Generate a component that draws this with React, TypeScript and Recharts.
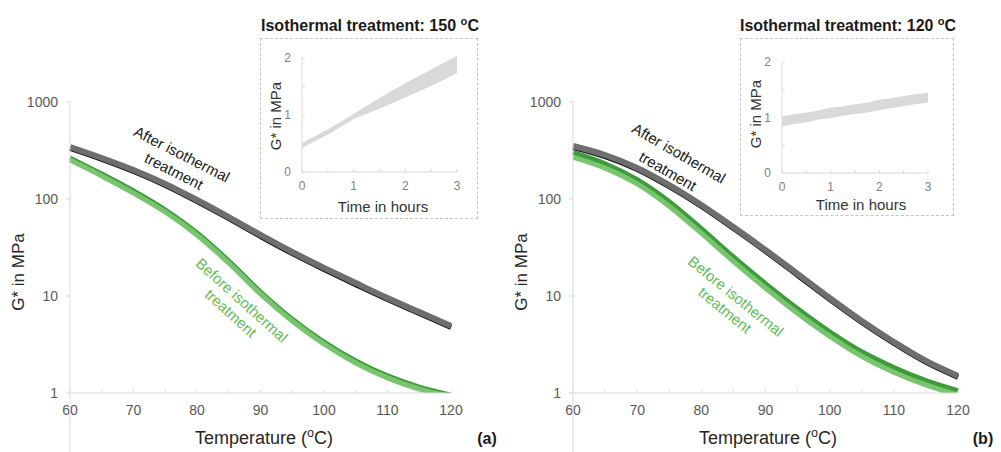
import { LineChart, Line, XAxis, YAxis, ComposedChart, Area } from "recharts";

// temperature sweep, °C
const temps = [60, 65, 70, 75, 80, 85, 90, 95, 100, 105, 110, 115, 120];

// (a) isothermal at 150 °C, G* in MPa
const afterGrayA = [344, 265, 199, 143, 97.7, 65.2, 42.6, 28.4, 19.5, 13.6, 9.53, 6.84, 4.91];
const afterBlackA = [332, 256, 192, 138, 94.3, 62.9, 41.1, 27.4, 18.8, 13.1, 9.2, 6.6, 4.74];
const beforeDarkA = [264, 181, 121, 77, 44.6, 22.9, 11.0, 5.78, 3.35, 2.14, 1.5, 1.15, 0.95];
const beforeLightA = [252, 173, 115, 73.5, 42.6, 21.9, 10.5, 5.52, 3.2, 2.04, 1.43, 1.1, 0.91];

// (b) isothermal at 120 °C
const afterGrayB = [352, 284, 209, 139, 86.7, 51.4, 29.8, 16.9, 9.53, 5.52, 3.36, 2.14, 1.5];
const afterBlackB = [340, 274, 202, 134, 83.7, 49.6, 28.8, 16.3, 9.2, 5.33, 3.24, 2.07, 1.45];
const beforeDarkB = [300, 231, 158, 93.6, 49.4, 25.3, 13.4, 7.39, 4.28, 2.66, 1.83, 1.34, 1.055];
const beforeLightB = [270, 208, 143, 84.3, 44.5, 22.8, 12.1, 6.65, 3.86, 2.39, 1.64, 1.21, 0.95];

// insets: G* during the isothermal hold
const hours = [0, 0.25, 0.5, 0.75, 1, 1.25, 1.5, 1.75, 2, 2.25, 2.5, 2.75, 3];
const holdLowA = [0.44, 0.56, 0.68, 0.81, 0.95, 1.04, 1.13, 1.23, 1.33, 1.43, 1.53, 1.64, 1.76];
const holdHighA = [0.49, 0.61, 0.73, 0.86, 1.0, 1.14, 1.28, 1.41, 1.54, 1.66, 1.78, 1.9, 2.02];
const holdLowB = [0.86, 0.9, 0.93, 0.98, 1.01, 1.05, 1.08, 1.11, 1.15, 1.19, 1.22, 1.26, 1.29];
const holdHighB = [1.0, 1.04, 1.07, 1.11, 1.16, 1.18, 1.22, 1.25, 1.3, 1.33, 1.37, 1.4, 1.43];

const tempTicks = [60, 65, 70, 75, 80, 85, 90, 95, 100, 105, 110, 115, 120];
const modulusTicks = [1, 10, 100, 1000];
const hourTicks = [0, 0.5, 1, 1.5, 2, 2.5, 3];
const holdTicks = [0, 0.5, 1, 1.5, 2];

const FONT = "'Liberation Sans', Arial, sans-serif";
const AXIS = "#d9d9d9";

const mainRows = (gray: number[], black: number[], dark: number[], light: number[]) =>
  temps.map((t, i) => ({ t, gray: gray[i], black: black[i], dark: dark[i], light: light[i] }));

const holdRows = (lo: number[], hi: number[]) => hours.map((h, i) => ({ h, band: [lo[i], hi[i]] }));

const dataA = mainRows(afterGrayA, afterBlackA, beforeDarkA, beforeLightA);
const dataB = mainRows(afterGrayB, afterBlackB, beforeDarkB, beforeLightB);
const holdA = holdRows(holdLowA, holdHighA);
const holdB = holdRows(holdLowB, holdHighB);

function MainChart({ data, width, right }: { data: any[]; width: number; right: number }) {
  return (
    <LineChart width={width} height={452} data={data} margin={{ top: 102, right, bottom: 29, left: 0 }}>
      <XAxis
        dataKey="t"
        type="number"
        domain={[60, 120]}
        ticks={tempTicks}
        tickFormatter={(v) => (v % 10 === 0 ? String(v) : "")}
        height={30}
        stroke={AXIS}
        tickSize={-3}
        tickMargin={15}
        tick={{ fill: "#595959", fontSize: 14, fontFamily: FONT }}
      />
      <YAxis
        type="number"
        scale="log"
        domain={[1, 1000]}
        allowDataOverflow
        ticks={modulusTicks}
        width={70}
        stroke={AXIS}
        tickSize={4}
        tickMargin={8}
        tick={{ fill: "#595959", fontSize: 14, fontFamily: FONT }}
      />
      <Line dataKey="black" type="monotone" stroke="#111111" strokeWidth={5} dot={false} activeDot={false} isAnimationActive={false} />
      <Line dataKey="gray" type="monotone" stroke="#6e6e6e" strokeWidth={6} dot={false} activeDot={false} isAnimationActive={false} />
      <Line dataKey="dark" type="monotone" stroke="#3c9c3a" strokeWidth={5} dot={false} activeDot={false} isAnimationActive={false} />
      <Line dataKey="light" type="monotone" stroke="#78c46f" strokeWidth={5} dot={false} activeDot={false} isAnimationActive={false} />
    </LineChart>
  );
}

function HoldChart({ data, width, height, top, right, bottom }: { data: any[]; width: number; height: number; top: number; right: number; bottom: number }) {
  const tick = { fill: "#7f7f7f", fontSize: 12, fontFamily: FONT };
  return (
    <ComposedChart width={width} height={height} data={data} margin={{ top, right, bottom, left: 0 }}>
      <XAxis
        dataKey="h"
        type="number"
        domain={[0, 3]}
        ticks={hourTicks}
        tickFormatter={(v) => (Number.isInteger(v) ? String(v) : "")}
        height={20}
        stroke={AXIS}
        tickSize={-3}
        tickMargin={12}
        tick={tick}
      />
      <YAxis
        type="number"
        domain={[0, 2]}
        ticks={holdTicks}
        tickFormatter={(v) => (Number.isInteger(v) ? String(v) : "")}
        width={42}
        stroke={AXIS}
        tickSize={-3}
        tickMargin={14}
        tick={tick}
      />
      <Area dataKey="band" type="linear" stroke="#d9d9d9" strokeWidth={2} fill="#d9d9d9" fillOpacity={1} dot={false} activeDot={false} isAnimationActive={false} />
    </ComposedChart>
  );
}

const sup = (s: string) => (
  <tspan baselineShift="super" fontSize="70%">
    {s}
  </tspan>
);

function Rotated({ x, y, angle, fill, children }: { x: number; y: number; angle: number; fill: string; children: any }) {
  return (
    <text x={x} y={y} transform={`rotate(${angle} ${x} ${y})`} textAnchor="middle" dominantBaseline="central" fill={fill} fontSize={15}>
      {children}
    </text>
  );
}

export default function App() {
  const box = { position: "absolute" as const, border: "1.5px dashed #c4c4c4", boxSizing: "border-box" as const };
  return (
    <div style={{ position: "absolute", left: 0, top: 0, width: 1001, height: 452, background: "#fff", fontFamily: FONT, overflow: "hidden" }}>
      <div style={{ position: "absolute", left: 0, top: 0 }}>
        <MainChart data={dataA} width={500} right={49} />
      </div>
      <div style={{ position: "absolute", left: 503, top: 0 }}>
        <MainChart data={dataB} width={498} right={43} />
      </div>

      <div style={{ ...box, left: 260, top: 38, width: 218, height: 181 }} />
      <div style={{ ...box, left: 740, top: 38, width: 214, height: 178 }} />
      <div style={{ position: "absolute", left: 260, top: 38 }}>
        <HoldChart data={holdA} width={217} height={180} top={19} right={20} bottom={26} />
      </div>
      <div style={{ position: "absolute", left: 740, top: 38 }}>
        <HoldChart data={holdB} width={213} height={177} top={24} right={25} bottom={22} />
      </div>

      <svg width={1001} height={452} style={{ position: "absolute", left: 0, top: 0, pointerEvents: "none" }} fontFamily={FONT}>
        {/* y axis lines run on below the x axis in the source figure */}
        <line x1={70} y1={393} x2={70} y2={452} stroke={AXIS} />
        <line x1={573} y1={393} x2={573} y2={452} stroke={AXIS} />

        {/* axis titles */}
        <text x={18} y={272} transform="rotate(-90 18 272)" textAnchor="middle" dominantBaseline="central" fontSize={17} fill="#262626">
          G* in MPa
        </text>
        <text x={521} y={272} transform="rotate(-90 521 272)" textAnchor="middle" dominantBaseline="central" fontSize={17} fill="#262626">
          G* in MPa
        </text>
        <text x={264} y={444} textAnchor="middle" fontSize={18} fill="#262626">
          Temperature ({sup("o")}C)
        </text>
        <text x={768} y={444} textAnchor="middle" fontSize={18} fill="#262626">
          Temperature ({sup("o")}C)
        </text>
        <text x={487} y={444} textAnchor="middle" fontSize={16} fontWeight="bold" fill="#1a1a1a">
          (a)
        </text>
        <text x={983} y={444} textAnchor="middle" fontSize={16} fontWeight="bold" fill="#1a1a1a">
          (b)
        </text>

        {/* inset titles */}
        <text x={370} y={31} textAnchor="middle" fontSize={16} fontWeight="bold" fill="#1a1a1a" textLength={218} lengthAdjust="spacingAndGlyphs">
          Isothermal treatment: 150 {sup("o")}C
        </text>
        <text x={848} y={31} textAnchor="middle" fontSize={16} fontWeight="bold" fill="#1a1a1a" textLength={216} lengthAdjust="spacingAndGlyphs">
          Isothermal treatment: 120 {sup("o")}C
        </text>
        <text x={275} y={116} transform="rotate(-90 275 116)" textAnchor="middle" dominantBaseline="central" fontSize={15} fill="#333">
          G* in MPa
        </text>
        <text x={755} y={114} transform="rotate(-90 755 114)" textAnchor="middle" dominantBaseline="central" fontSize={15} fill="#333">
          G* in MPa
        </text>
        <text x={383} y={212} textAnchor="middle" fontSize={15} fill="#333">
          Time in hours
        </text>
        <text x={861} y={210} textAnchor="middle" fontSize={15} fill="#333">
          Time in hours
        </text>

        {/* curve annotations */}
        <Rotated x={182} y={154} angle={27} fill="#1a1a1a">After isothermal</Rotated>
        <Rotated x={174} y={171} angle={27} fill="#1a1a1a">treatment</Rotated>
        <Rotated x={242} y={300} angle={42} fill="#5fbd57">Before isothermal</Rotated>
        <Rotated x={231} y={313} angle={42} fill="#5fbd57">treatment</Rotated>
        <Rotated x={679} y={153} angle={30} fill="#1a1a1a">After isothermal</Rotated>
        <Rotated x={668} y={171} angle={30} fill="#1a1a1a">treatment</Rotated>
        <Rotated x={736} y={296} angle={39} fill="#5fbd57">Before isothermal</Rotated>
        <Rotated x={725} y={310} angle={39} fill="#5fbd57">treatment</Rotated>
      </svg>
    </div>
  );
}
